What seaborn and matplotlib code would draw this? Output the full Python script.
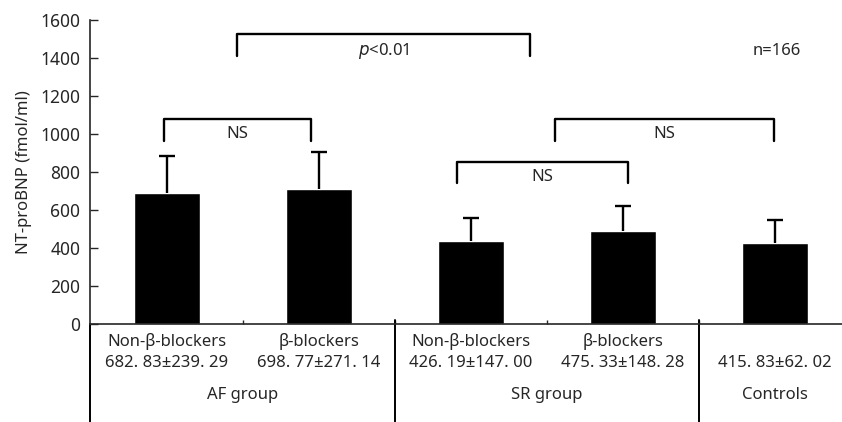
import pandas as pd
import numpy as np
import seaborn as sns
import matplotlib.pyplot as plt
import matplotlib.transforms as mtransforms

groups = ["AF group", "AF group", "SR group", "SR group", "Controls"]
subgroups = ["Non-β-blockers", "β-blockers", "Non-β-blockers", "β-blockers", ""]
value_labels = ["682. 83±239. 29", "698. 77±271. 14", "426. 19±147. 00",
                "475. 33±148. 28", "415. 83±62. 02"]
bar_means = [690, 712, 438, 491, 425]
bar_errs = [196, 196, 119, 132, 122]

df = pd.DataFrame({"key": [g + " " + s for g, s in zip(groups, subgroups)],
                   "mean": bar_means})

sns.set_style("ticks")
plt.rcParams["font.family"] = ["Noto Sans", "DejaVu Sans"]

fig = plt.figure(figsize=(8.42, 4.22), dpi=100)
ax = fig.add_axes([90 / 842, 1 - 324.3 / 422, 1 - 90 / 842, 304.3 / 422])

sns.barplot(df, x="key", y="mean", color="black", width=0.43,
            saturation=1, errorbar=None, ax=ax)
xs = np.arange(len(df))
_, caps, _ = ax.errorbar(xs, bar_means, yerr=[np.zeros(len(xs)), bar_errs],
                         fmt="none", ecolor="black", elinewidth=1.7,
                         capsize=6, capthick=1.7)
caps[0].set_visible(False)  # only the upper cap

ax.set_ylim(0, 1600)
ax.set_xlim(-0.506, 4.44)
ax.set_yticks(range(0, 1601, 200))
ax.tick_params(axis="y", direction="in", length=6, width=1, labelsize=12.5, pad=7)
ax.set_xticks([0.5, 1.5, 2.5, 3.5])
ax.set_xticklabels([])
ax.tick_params(axis="x", direction="in", length=3, width=1)
ax.set_xlabel("")
ax.set_ylabel("NT-proBNP (fmol/ml)", fontsize=12, labelpad=6)
for s in ["top", "right"]:
    ax.spines[s].set_visible(False)
ax.spines["left"].set_linewidth(1.2)
ax.spines["bottom"].set_linewidth(1.2)

trans = mtransforms.blended_transform_factory(ax.transData, ax.transAxes)
# separators under the axis
ax.plot([-0.506, -0.506], [0, -0.33], color="black", lw=1.4, transform=trans, clip_on=False)
for xv in [1.5, 3.5]:
    ax.plot([xv, xv], [0.015, -0.33], color="black", lw=1.4, transform=trans, clip_on=False)

for i in range(len(df)):
    if subgroups[i]:
        ax.text(i, -0.058, subgroups[i], transform=trans, ha="center", va="center", fontsize=12)
    ax.text(i, -0.127, value_labels[i], transform=trans, ha="center", va="center", fontsize=12)

for name, xc in [("AF group", 0.5), ("SR group", 2.5), ("Controls", 4.0)]:
    ax.text(xc, -0.232, name, transform=trans, ha="center", va="center", fontsize=12)


def bracket(x0, x1, top, bottom, label, ty):
    ax.plot([x0, x0, x1, x1], [bottom, top, top, bottom], color="black",
            lw=1.7, clip_on=False)
    ax.text((x0 + x1) / 2, ty, label, ha="center", va="center", fontsize=12)


bracket(0.46, 2.39, 1524, 1410, "$p$<0.01", 1437)
bracket(-0.02, 0.95, 1079, 963, "NS", 1000)
bracket(1.91, 3.03, 853, 742, "NS", 774)
bracket(2.55, 3.99, 1079, 963, "NS", 1000)
ax.text(4.01, 1437, "n=166", ha="center", va="center", fontsize=12)

fig.savefig("out.png", dpi=100)
